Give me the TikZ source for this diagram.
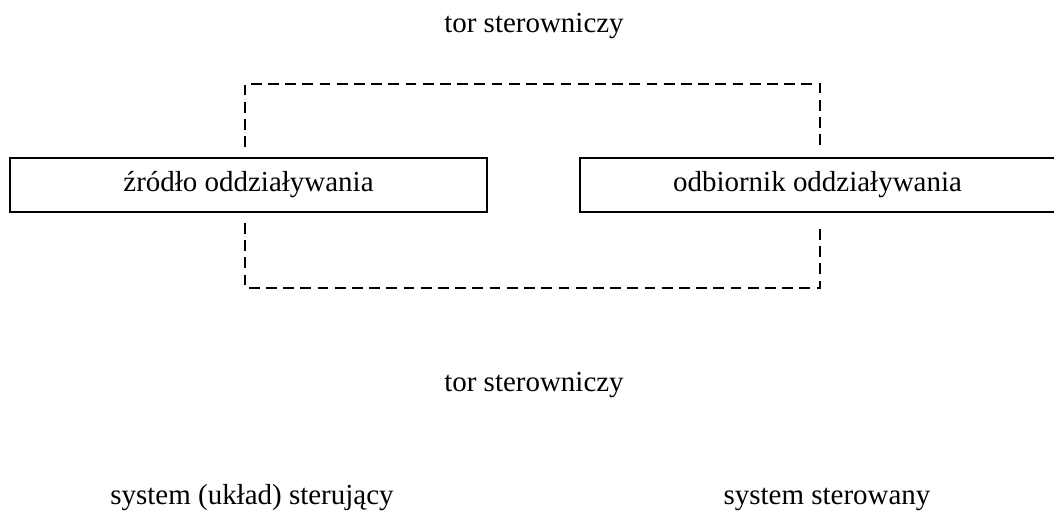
\documentclass[tikz,border=0pt]{standalone}
\usepackage{fontspec}
\setmainfont{Liberation Serif}
\usetikzlibrary{positioning,calc}

\begin{document}
\begin{tikzpicture}[x=0.025cm, y=0.025cm,
		% Node styles
		element/.style={draw=black, line width=1.4pt, minimum width=11.9cm, minimum height=1.35cm,
				inner sep=0pt, font=\fontsize{20.6}{24}\selectfont, align=center},
		caption/.style={anchor=base, inner sep=0pt, font=\fontsize{20.6}{24}\selectfont},
		ctrlpath/.style={draw=black, line width=1.9pt, dash pattern=on 0.27cm off 0.16cm}
	]

	\useasboundingbox (0,0) rectangle (1054,512);

	% Labels
	\node[caption] (toptitle) at (534,479) {tor sterowniczy};
	\node[caption] (midtitle) at (534,120) {tor sterowniczy};

	% Main components
	\node[element] (source) at (248.5,327) {źródło oddziaływania};
	\node[element, minimum width=11.875cm] (receiver) at (817.5,327) {odbiornik oddziaływania};

	% Systems
	\node[caption] (ctrlsys) at (252,7) {system (układ) sterujący};
	\node[caption] (ctrldsys) at (827,7) {system sterowany};

	% Control paths
	\draw[ctrlpath] ([shift={(-3.5,10)}]source.north) -- ++(0,63) -| ([shift={(2.5,10)}]receiver.north);
	\draw[ctrlpath] ([shift={(-3.5,-10)}]source.south) -- ++(0,-65) -| ([shift={(2.5,-10)}]receiver.south);

\end{tikzpicture}
\end{document}
